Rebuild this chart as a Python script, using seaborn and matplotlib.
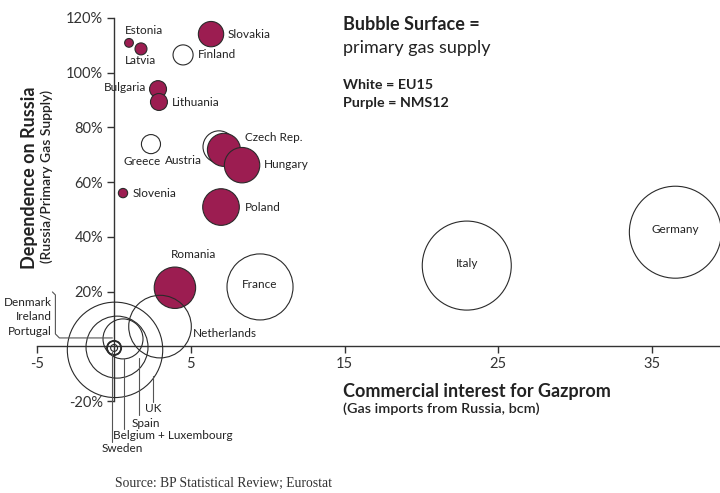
import numpy as np
import pandas as pd
import matplotlib
matplotlib.use("Agg")
import matplotlib.pyplot as plt
import matplotlib.transforms as mtransforms
from matplotlib.lines import Line2D
import seaborn as sns

# ---------------- data ----------------
countries = ["Austria", "Estonia", "Latvia", "Slovakia", "Bulgaria", "Lithuania",
             "Czech Rep.", "Hungary", "Slovenia", "Poland", "Romania",
             "Finland", "Greece", "France", "Netherlands", "Italy", "Germany",
             "UK", "Spain", "Belgium + Luxembourg", "Denmark", "Ireland",
             "Portugal", "Sweden"]
group = ["EU15", "NMS12", "NMS12", "NMS12", "NMS12", "NMS12",
         "NMS12", "NMS12", "NMS12", "NMS12", "NMS12",
         "EU15", "EU15", "EU15", "EU15", "EU15", "EU15",
         "EU15", "EU15", "EU15", "EU15", "EU15", "EU15", "EU15"]
gas_imports_russia_bcm = [6.83, 0.97, 1.75, 6.31, 2.86, 2.92,
                          7.15, 8.33, 0.58, 6.96, 3.96,
                          4.49, 2.40, 9.5, 2.99, 22.96, 36.54,
                          0.06, 0.19, 0.58, 0.0, 0.0, 0.0, 0.0]
dependence_pct = [72.9, 110.9, 108.7, 114.1, 94.0, 89.3,
                  71.8, 66.2, 56.0, 50.9, 21.4,
                  106.5, 73.9, 21.7, 7.2, 29.5, 41.7,
                  -1.3, -0.3, 2.7, -0.6, -0.6, -0.6, -0.6]
primary_supply_bcm = [10.7, 0.8, 1.5, 6.7, 3.0, 3.0,
                      11.4, 13.1, 0.9, 14.0, 17.9,
                      4.2, 3.8, 45.5, 40.9, 82.7, 88.3,
                      95.0, 40.1, 16.7, 2.3, 2.0, 1.9, 0.5]

x_ticks = [-5, 5, 15, 25, 35]
y_ticks = [-20, 20, 40, 60, 80, 100, 120]
y_tick_labels = [f"{v}%" for v in y_ticks]

df = pd.DataFrame({"country": countries, "group": group,
                   "imports": gas_imports_russia_bcm,
                   "dependence": dependence_pct,
                   "supply": primary_supply_bcm})

PURPLE = "#9c1d51"
EDGE = "#2a2a2a"
TXT = "#222222"

sns.set_theme(style="white")
plt.rcParams["font.family"] = ["Lato", "DejaVu Sans"]

W, H = 720, 493
fig = plt.figure(figsize=(W / 100, H / 100), dpi=100)
# axes placement: x=-5 at px 37.3, 15.36 px per unit; y=0 at px 346.3, 2.736 px per %
left_px, xscale = 37.3, 15.36
y0_px, yscale = 346.3, 2.736
xmax = -5 + (W - left_px) / xscale
ybot_px = 406.5
ymin = -(ybot_px - y0_px) / yscale
ymax = y0_px / yscale
ax = fig.add_axes([left_px / W, (H - ybot_px) / H, (W - left_px) / W, ybot_px / H])
ax.set_xlim(-5, xmax)
ax.set_ylim(ymin, ymax)

sns.scatterplot(data=df, x="imports", y="dependence", size="supply",
                sizes=(0, 4967), size_norm=(0, 100), legend=False,
                edgecolor=EDGE, linewidth=0.8, ax=ax, zorder=3)
coll = ax.collections[0]
coll.set_facecolors([PURPLE if g == "NMS12" else "none" for g in df["group"]])
coll.set_edgecolors([EDGE] * len(df))

# axes styling
for s in ["top", "right"]:
    ax.spines[s].set_visible(False)
ax.spines["left"].set_position(("data", 0))
ax.spines["bottom"].set_position(("data", 0))
ax.spines["left"].set_bounds(-20, 120)
ax.spines["bottom"].set_bounds(-5, xmax)
for s in ["left", "bottom"]:
    ax.spines[s].set_color("#333333")
    ax.spines[s].set_linewidth(1.0)
ax.set_xticks(x_ticks)
ax.set_xticklabels([str(v) for v in x_ticks])
ax.set_yticks(y_ticks)
ax.set_yticklabels(y_tick_labels)
ax.tick_params(axis="both", direction="out", length=5, width=1, color="#333333",
               labelsize=10.5, labelcolor="#333333", pad=4)
ax.tick_params(axis="x", bottom=True, pad=3)
ax.tick_params(axis="y", left=True, pad=3)
ax.set_xlabel("")
ax.set_ylabel("")
ax.patch.set_alpha(0)

# ---------------- labels ----------------
label_offsets = {
    "Estonia": (-4, -12, "left"), "Latvia": (-16, 12, "left"),
    "Slovakia": (17, 0, "left"), "Finland": (15, 0, "left"),
    "Bulgaria": (-12, -2, "right"), "Lithuania": (13, 1, "left"),
    "Greece": (-8.5, 17, "center"), "Austria": (-17, 14, "right"),
    "Czech Rep.": (21, -12, "left"), "Hungary": (22, -1, "left"),
    "Slovenia": (10, 0, "left"), "Poland": (24, 0, "left"),
    "Romania": (19, -33, "center"), "France": (0, -2, "center"),
    "Netherlands": (33, 6.5, "left"), "Italy": (0, -2, "center"),
    "Germany": (0, -3, "center"), "UK": (38, 59, "center"),
    "Spain": (29, 76, "center"), "Belgium + Luxembourg": (50, 97, "center"),
    "Sweden": (8, 101, "center"), "Denmark": (-62, -45, "right"),
    "Ireland": (-62, -31, "right"), "Portugal": (-62, -16, "right"),
}
for _, r in df.iterrows():
    dx, dy, ha = label_offsets[r["country"]]
    ax.annotate(r["country"], (r["imports"], r["dependence"]),
                xytext=(dx, -dy), textcoords="offset pixels",
                ha=ha, va="center", fontsize=8.5, color=TXT, zorder=5)

# leader lines (pixel offsets relative to a bubble centre, image y downward)
leaders = {
    "Sweden": ([-2, -2], [4, 94]),
    "Belgium + Luxembourg": ([1, 1], [20, 90]),
    "Spain": ([22, 22], [11, 68]),
    "UK": ([38, 38], [26, 52]),
    "Denmark": ([-61.7, -58.7, -58.7, -54.7, -1.7], [-56, -53, -14, -10, -10]),
}
for name, (dxs, dys) in leaders.items():
    r = df[df["country"] == name].iloc[0]
    bx, by = ax.transData.transform((r["imports"], r["dependence"]))
    ln = Line2D(bx + np.array(dxs), by - np.array(dys), color="#555555", lw=0.8,
                transform=mtransforms.IdentityTransform())
    fig.add_artist(ln)


def ptext(xp, yp, s, **kw):
    kw.setdefault("va", "center")
    kw.setdefault("color", TXT)
    fig.text(xp / W, 1 - yp / H, s, **kw)


ptext(343, 25, "Bubble Surface =", fontsize=13, fontweight="bold")
ptext(343, 48, "primary gas supply", fontsize=13)
ptext(343, 85, "White = EU15", fontsize=10.3, fontweight="bold")
ptext(343, 103, "Purple = NMS12", fontsize=10.3, fontweight="bold")
ptext(343, 391, "Commercial interest for Gazprom", fontsize=13, fontweight="bold")
ptext(343, 409, "(Gas imports from Russia, bcm)", fontsize=10.4, fontweight="semibold")
ptext(29, 178, "Dependence on Russia", fontsize=13, fontweight="bold",
      rotation=90, ha="center")
ptext(47, 176, "(Russia/Primary Gas Supply)", fontsize=10, fontweight="semibold",
      rotation=90, ha="center")
ptext(115, 483, "Source: BP Statistical Review; Eurostat", fontsize=9.8,
      family=["Liberation Serif", "DejaVu Serif"], color="#333333")

fig.savefig("out.png", dpi=100)
